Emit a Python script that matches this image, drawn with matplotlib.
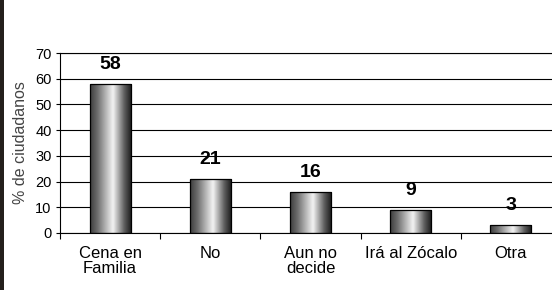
import matplotlib
matplotlib.use("Agg")
import matplotlib.pyplot as plt
import numpy as np
from matplotlib.colors import LinearSegmentedColormap
from matplotlib.patches import Rectangle

# datos
categorias = ["Cena en\nFamilia", "No", "Aun no\ndecide", "Irá al Zócalo", "Otra"]
valores = [58, 21, 16, 9, 3]
marcas_y = [0, 10, 20, 30, 40, 50, 60, 70]

plt.rcParams["font.family"] = ["Liberation Sans", "DejaVu Sans"]

fig = plt.figure(figsize=(5.52, 2.90), dpi=100)
ax = fig.add_axes([60 / 552, 57 / 290, 501 / 552, 180 / 290])

# franja oscura a la izquierda
fig.patches.append(Rectangle((0, 0), 4 / 552, 1, transform=fig.transFigure,
                             facecolor="#241f1c", edgecolor="none", zorder=5))

# degradado tipo cilindro
cmap = LinearSegmentedColormap.from_list(
    "cil", [(0, "#3c3c3c"), (0.18, "#6e6e6e"), (0.55, "#f4f4f4"),
            (0.82, "#5e5e5e"), (1, "#161616")])
grad = np.linspace(0, 1, 256).reshape(1, -1)

x = np.arange(len(valores))
barras = ax.bar(x, valores, width=0.41, facecolor="none", edgecolor="black",
                linewidth=0.9, zorder=3)
for b in barras:
    x0, w, h = b.get_x(), b.get_width(), b.get_height()
    im = ax.imshow(grad, extent=(x0, x0 + w, 0, h), cmap=cmap, aspect="auto",
                   interpolation="bicubic", zorder=2)
    im.set_clip_path(b)

for xi, v in zip(x, valores):
    ax.text(xi, v + 4.3, str(v), ha="center", va="bottom", fontsize=14,
            fontweight="bold")

ax.set_xlim(-0.5, len(valores) - 0.5)
ax.set_ylim(0, 70)
ax.set_yticks(marcas_y)
ax.tick_params(axis="y", labelsize=10.5, length=3, width=0.8, direction="out", pad=3)
ax.set_xticks(x)
ax.set_xticklabels(categorias, fontsize=12, linespacing=1.05)
ax.set_xticks(np.arange(-0.5, len(valores), 1), minor=True)
ax.tick_params(axis="x", which="major", length=0, pad=9)
ax.tick_params(axis="x", which="minor", length=4, width=0.8, direction="out")

ax.grid(axis="y", color="black", linewidth=0.8, zorder=1)
ax.set_axisbelow(True)
ax.spines["right"].set_visible(False)
for s in ["left", "bottom", "top"]:
    ax.spines[s].set_linewidth(0.8)
    ax.spines[s].set_color("black")

ax.set_ylabel("% de ciudadanos", fontsize=11.5, color="#444444", labelpad=5)

fig.savefig("out.png", dpi=100)
